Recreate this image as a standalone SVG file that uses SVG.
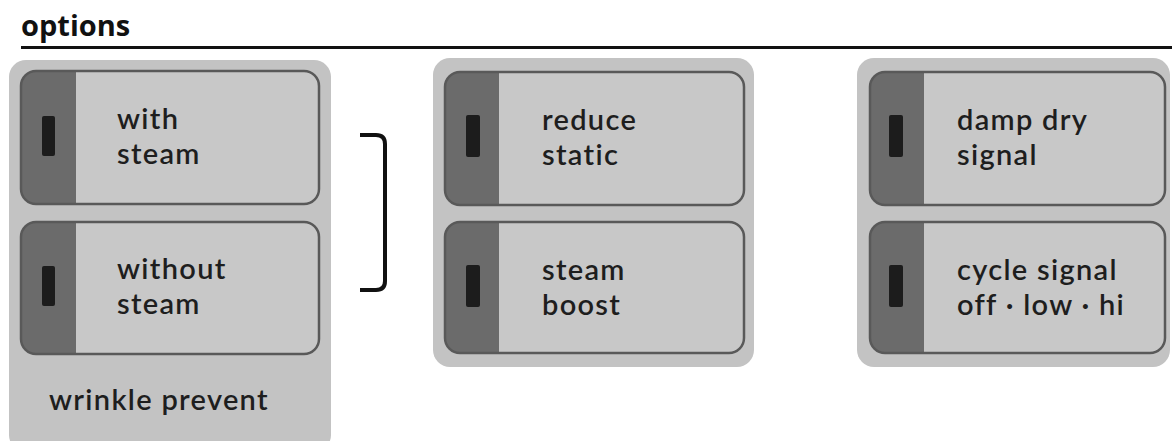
<svg xmlns="http://www.w3.org/2000/svg" width="1172" height="441" viewBox="0 0 1172 441">
<style>
.panel{fill:#c3c3c3}
.btn{fill:#c8c8c8}
.edge{fill:none;stroke:#595959;stroke-width:2.5}
.strip{fill:#6b6b6b}
.ind{fill:#1c1c1c}
.lbl{font-family:Lato,"Open Sans",sans-serif;font-size:29px;font-weight:600;letter-spacing:1.3px;fill:#1e1e1e}
.title{font-family:"Open Sans","Noto Sans",sans-serif;font-size:29px;font-weight:bold;fill:#111}
</style>
<defs>
<clipPath id="c1"><rect x="21" y="71" width="298" height="133" rx="15"/></clipPath>
<clipPath id="c2"><rect x="21" y="222" width="298" height="132" rx="15"/></clipPath>
<clipPath id="c3"><rect x="445" y="72" width="299" height="133" rx="15"/></clipPath>
<clipPath id="c4"><rect x="445" y="222" width="299" height="131" rx="15"/></clipPath>
<clipPath id="c5"><rect x="870" y="72" width="295" height="133" rx="15"/></clipPath>
<clipPath id="c6"><rect x="870" y="222" width="295" height="131" rx="15"/></clipPath>
</defs>
<rect width="1172" height="441" fill="#fff"/>
<g id="header">
<text class="title" x="21" y="36">options</text>
<rect x="21" y="46" width="1151" height="3" fill="#111"/>
</g>
<g id="panel-wrinkle">
<rect class="panel" x="9" y="60" width="322" height="392" rx="17"/>
<text class="lbl" x="49" y="410">wrinkle prevent</text>
</g>
<g id="btn-with-steam">
<rect class="btn" x="21" y="71" width="298" height="133" rx="15"/>
<rect class="strip" x="21" y="71" width="55" height="133" clip-path="url(#c1)"/>
<rect class="edge" x="21" y="71" width="298" height="133" rx="15"/>
<rect class="ind" x="42" y="116" width="13" height="40" rx="2"/>
<text class="lbl" x="117" y="129">with</text>
<text class="lbl" x="117" y="164">steam</text>
</g>
<g id="btn-without-steam">
<rect class="btn" x="21" y="222" width="298" height="132" rx="15"/>
<rect class="strip" x="21" y="222" width="55" height="132" clip-path="url(#c2)"/>
<rect class="edge" x="21" y="222" width="298" height="132" rx="15"/>
<rect class="ind" x="42" y="266" width="13" height="40" rx="2"/>
<text class="lbl" x="117" y="279">without</text>
<text class="lbl" x="117" y="314">steam</text>
</g>
<g id="panel-middle">
<rect class="panel" x="433" y="58" width="321" height="309" rx="17"/>
</g>
<g id="btn-reduce-static">
<rect class="btn" x="445" y="72" width="299" height="133" rx="15"/>
<rect class="strip" x="445" y="72" width="54" height="133" clip-path="url(#c3)"/>
<rect class="edge" x="445" y="72" width="299" height="133" rx="15"/>
<rect class="ind" x="466" y="115" width="14" height="42" rx="2"/>
<text class="lbl" x="542" y="130">reduce</text>
<text class="lbl" x="542" y="165">static</text>
</g>
<g id="btn-steam-boost">
<rect class="btn" x="445" y="222" width="299" height="131" rx="15"/>
<rect class="strip" x="445" y="222" width="54" height="131" clip-path="url(#c4)"/>
<rect class="edge" x="445" y="222" width="299" height="131" rx="15"/>
<rect class="ind" x="466" y="265" width="14" height="42" rx="2"/>
<text class="lbl" x="542" y="280">steam</text>
<text class="lbl" x="542" y="315">boost</text>
</g>
<g id="panel-right">
<rect class="panel" x="857" y="58" width="313" height="309" rx="17"/>
</g>
<g id="btn-damp-dry">
<rect class="btn" x="870" y="72" width="295" height="133" rx="15"/>
<rect class="strip" x="870" y="72" width="54" height="133" clip-path="url(#c5)"/>
<rect class="edge" x="870" y="72" width="295" height="133" rx="15"/>
<rect class="ind" x="889" y="115" width="14" height="42" rx="2"/>
<text class="lbl" x="957" y="130">damp dry</text>
<text class="lbl" x="957" y="165">signal</text>
</g>
<g id="btn-cycle-signal">
<rect class="btn" x="870" y="222" width="295" height="131" rx="15"/>
<rect class="strip" x="870" y="222" width="54" height="131" clip-path="url(#c6)"/>
<rect class="edge" x="870" y="222" width="295" height="131" rx="15"/>
<rect class="ind" x="889" y="265" width="14" height="42" rx="2"/>
<text class="lbl" x="957" y="280">cycle signal</text>
<text class="lbl" x="957" y="315">off · low · hi</text>
</g>
<g id="connectors">
<path d="M360 135 H376 Q385 135 385 144 V281 Q385 290 376 290 H360" fill="none" stroke="#111" stroke-width="4"/>
</g>
</svg>
